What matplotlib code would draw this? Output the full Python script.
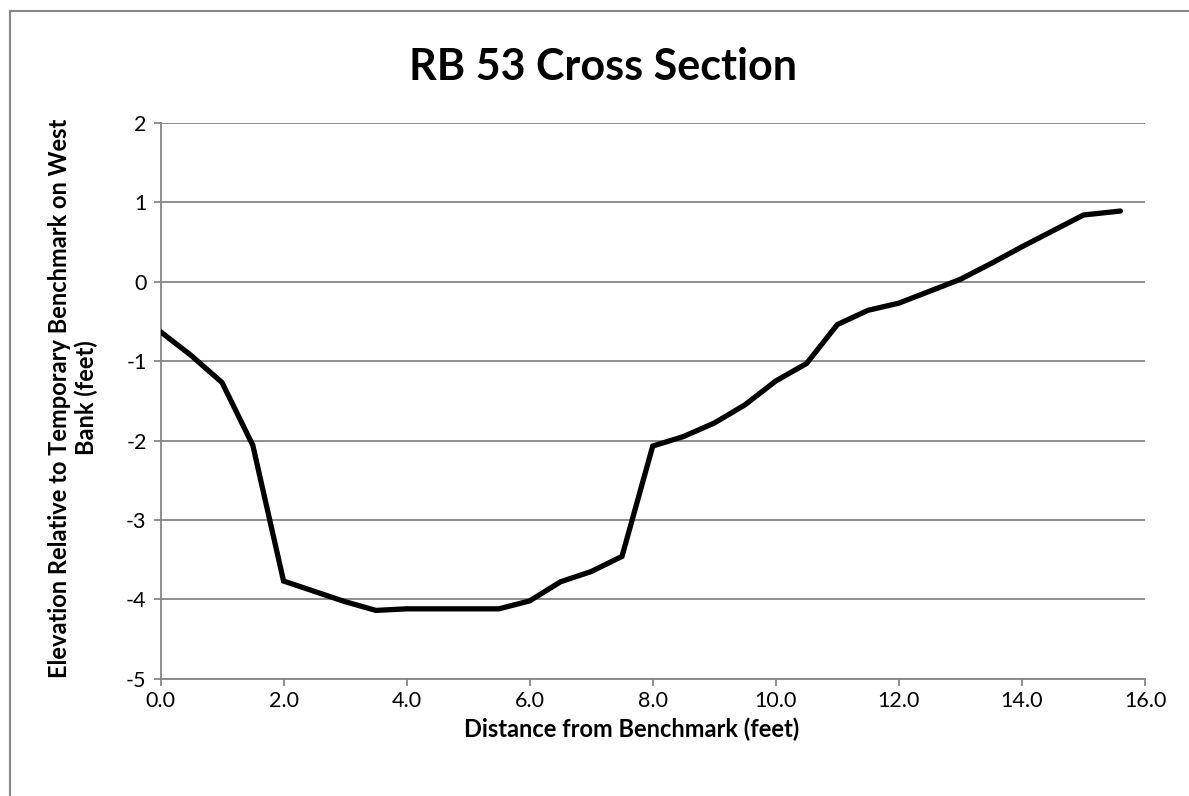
import matplotlib
matplotlib.use("Agg")
import matplotlib.pyplot as plt
from matplotlib.lines import Line2D

# Survey of the RB 53 cross section
distance_ft = [0.0, 0.5, 1.0, 1.5, 2.0, 2.5, 3.0, 3.5, 4.0, 4.5, 5.0, 5.5,
               6.0, 6.5, 7.0, 7.5, 8.0, 8.5, 9.0, 9.5, 10.0, 10.5, 11.0, 11.5,
               12.0, 12.5, 13.0, 13.5, 14.0, 14.5, 15.0, 15.6]
elevation_ft = [-0.63, -0.93, -1.27, -2.06, -3.77, -3.90, -4.03, -4.14, -4.12,
                -4.12, -4.12, -4.12, -4.02, -3.78, -3.65, -3.46, -2.07, -1.95,
                -1.78, -1.55, -1.25, -1.03, -0.54, -0.36, -0.27, -0.12, 0.03,
                0.23, 0.44, 0.64, 0.84, 0.89]
x_ticks = [0, 2, 4, 6, 8, 10, 12, 14, 16]
y_ticks = [-5, -4, -3, -2, -1, 0, 1, 2]

FONT = "Lato"
GRID = "#868686"

W, H = 1189, 796
fig = plt.figure(figsize=(W / 100, H / 100), dpi=100)
ax = fig.add_axes([160.5 / W, 1 - 678.7 / H, (1145 - 160.5) / W, (678.7 - 122.9) / H])

ax.plot(distance_ft, elevation_ft, color="black", lw=3.8, solid_joinstyle="miter",
        solid_capstyle="round", zorder=3)

ax.set_xlim(0, 16)
ax.set_ylim(-5, 2)
ax.set_xticks(x_ticks)
ax.set_xticklabels([f"{v:.1f}" for v in x_ticks])
ax.set_yticks(y_ticks)
ax.set_yticklabels([str(v) for v in y_ticks])

ax.yaxis.grid(True, color=GRID, lw=1.3)
ax.set_axisbelow(True)
for side in ("top", "right"):
    ax.spines[side].set_visible(False)
for side in ("left", "bottom"):
    ax.spines[side].set_color(GRID)
    ax.spines[side].set_linewidth(1.3)
ax.tick_params(axis="both", direction="out", length=5, width=1.3, color=GRID,
               labelsize=15.5, labelcolor="black")
ax.tick_params(axis="y", pad=5)
ax.tick_params(axis="x", pad=4)
for lab in ax.get_xticklabels() + ax.get_yticklabels():
    lab.set_fontfamily(FONT)

fig.text(603 / W, 1 - 67 / H, "RB 53 Cross Section", ha="center", va="center",
         fontsize=31, fontweight="bold", family=FONT)
fig.text(632 / W, 1 - 729 / H, "Distance from Benchmark (feet)", ha="center",
         va="center", fontsize=17, fontweight="bold", family=FONT)
fig.text(73 / W, 1 - 398 / H, "Elevation Relative to Temporary Benchmark on West\nBank (feet)",
         ha="center", va="center", rotation=90, fontsize=17, fontweight="bold",
         family=FONT, linespacing=1.15, multialignment="center")

# chart frame
fig.add_artist(Line2D([10 / W, 10 / W], [0, 1 - 11 / H], color=GRID, lw=1.5,
                      transform=fig.transFigure))
fig.add_artist(Line2D([10 / W, 1], [1 - 11 / H, 1 - 11 / H], color=GRID, lw=1.5,
                      transform=fig.transFigure))

fig.savefig("out.png", dpi=100, facecolor="white")
